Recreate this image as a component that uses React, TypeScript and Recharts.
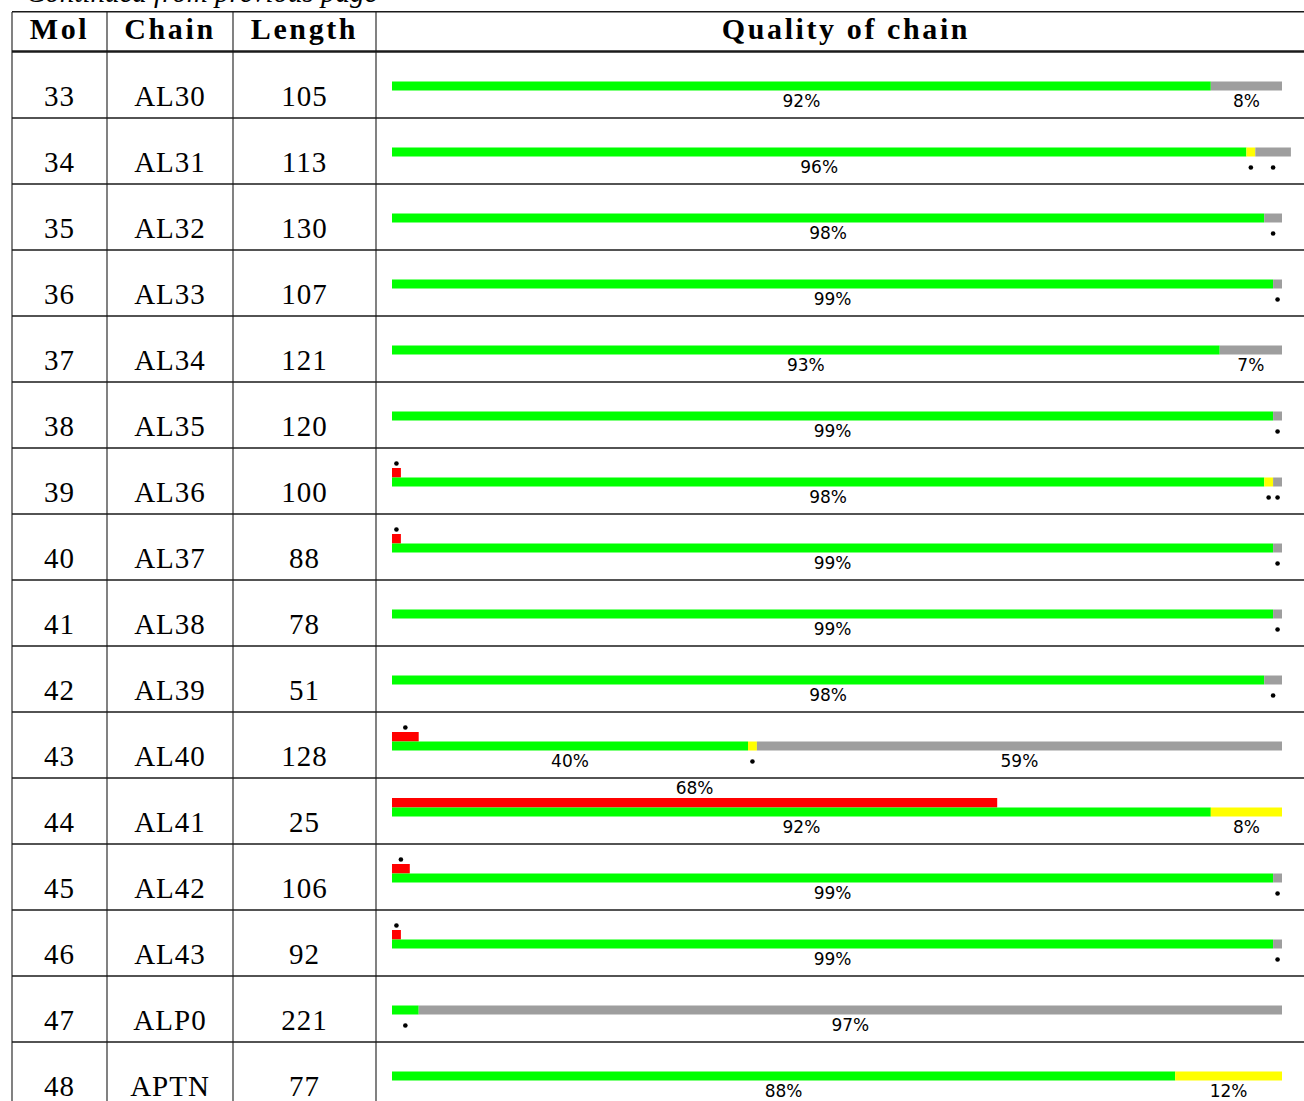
import React from 'react';
import { ComposedChart, Bar, XAxis, YAxis, LabelList } from 'recharts';

// ---- data ----
const mols = [33, 34, 35, 36, 37, 38, 39, 40, 41, 42, 43, 44, 45, 46, 47, 48];
const chains = ['AL30', 'AL31', 'AL32', 'AL33', 'AL34', 'AL35', 'AL36', 'AL37', 'AL38', 'AL39', 'AL40', 'AL41', 'AL42', 'AL43', 'ALP0', 'APTN'];
const lengths = [105, 113, 130, 107, 121, 120, 100, 88, 78, 51, 128, 25, 106, 92, 221, 77];
const goodPct = [92, 96, 98, 99, 93, 99, 98, 99, 99, 98, 40, 92, 99, 99, 3, 88];
const fairPct = [0, 1, 0, 0, 0, 0, 1, 0, 0, 0, 1, 8, 0, 0, 0, 12];
const missingPct = [8, 4, 2, 1, 7, 1, 1, 1, 1, 2, 59, 0, 1, 1, 97, 0];
const outlierPct = [0, 0, 0, 0, 0, 0, 1, 1, 0, 0, 3, 68, 2, 1, 0, 0];
const headers = ['Mol', 'Chain', 'Length', 'Quality of chain'];
const caption = 'Continued from previous page';

const data = mols.map((mol, i) => ({
  mol: String(mol),
  chain: chains[i],
  length: lengths[i],
  good: goodPct[i],
  fair: fairPct[i],
  missing: missingPct[i],
  outlier: outlierPct[i],
}));

// ---- layout / style ----
const CHART_W = 1304;
const CHART_H = 1108;
const COL_X = [12, 107, 233, 376];
const TABLE_RIGHT = 1316;
const LINE = '#1a1a1a';
const SERIF = '"Liberation Serif", "Times New Roman", serif';
const SANS = '"DejaVu Sans", sans-serif';
const GREEN = '#00ff00';
const YELLOW = '#ffff00';
const GREY = '#9e9e9e';
const RED = '#ff0000';
const zero = () => 0;

const colCenter = (i: number) => (COL_X[i] + (i + 1 < COL_X.length ? COL_X[i + 1] : TABLE_RIGHT)) / 2;

function RowTick(props: any) {
  const { y, payload } = props;
  const half = payload && typeof payload.offset === 'number' && payload.offset > 0 ? payload.offset : 33;
  const row = data.find((d) => d.mol === String(payload.value));
  if (!row) return null;
  const top = y - half;
  const bottom = y + half;
  const base = y + 21;
  const cells = [row.mol, row.chain, String(row.length)];
  return (
    <g>
      {COL_X.map((cx) => (
        <line key={cx} x1={cx} x2={cx} y1={top} y2={bottom} stroke={LINE} strokeWidth={1.1} />
      ))}
      <line x1={COL_X[0]} x2={TABLE_RIGHT} y1={bottom} y2={bottom} stroke={LINE} strokeWidth={1.3} />
      {cells.map((t, i) => (
        <text
          key={i}
          x={colCenter(i)}
          y={base}
          textAnchor="middle"
          fontFamily={SERIF}
          fontSize={29}
          letterSpacing={1}
          fill="#000"
        >
          {t}
        </text>
      ))}
    </g>
  );
}

function HeaderLabel(props: any) {
  const vb = props.viewBox || {};
  const top = typeof vb.y === 'number' ? vb.y : 12;
  const h = typeof vb.height === 'number' ? vb.height : 40;
  const bottom = top + h;
  return (
    <g>
      <text x={26} y={top - 10} fontFamily={SERIF} fontStyle="italic" fontSize={29} fill="#000">
        {caption}
      </text>
      <line x1={COL_X[0]} x2={TABLE_RIGHT} y1={top - 0.3} y2={top - 0.3} stroke={LINE} strokeWidth={1.5} />
      <line x1={COL_X[0]} x2={TABLE_RIGHT} y1={bottom - 0.5} y2={bottom - 0.5} stroke={LINE} strokeWidth={2.5} />
      {COL_X.map((cx) => (
        <line key={cx} x1={cx} x2={cx} y1={top} y2={bottom} stroke={LINE} strokeWidth={1.1} />
      ))}
      {headers.map((t, i) => (
        <text
          key={t}
          x={colCenter(i)}
          y={top + 27}
          textAnchor="middle"
          fontFamily={SERIF}
          fontWeight="bold"
          fontSize={30}
          letterSpacing={2.6}
          fill="#000"
        >
          {t}
        </text>
      ))}
    </g>
  );
}

function box(props: any) {
  const vb = props.viewBox && typeof props.viewBox.x === 'number' ? props.viewBox : props;
  return { x: +vb.x, y: +vb.y, width: +vb.width, height: +vb.height };
}

const markBelow = (props: any) => {
  const v = Number(props.value);
  if (!v) return null;
  const { x, y, width, height } = box(props);
  const cx = x + width / 2;
  const bottom = y + height;
  if (v >= 5) {
    return (
      <text x={cx} y={bottom + 16} textAnchor="middle" fontFamily={SANS} fontSize={17} fill="#000">
        {v}%
      </text>
    );
  }
  return <circle cx={cx} cy={bottom + 11} r={2.3} fill="#000" />;
};

const markAbove = (props: any) => {
  const v = Number(props.value);
  if (!v) return null;
  const { x, y, width } = box(props);
  const cx = x + width / 2;
  if (v >= 5) {
    return (
      <text x={cx} y={y - 4} textAnchor="middle" fontFamily={SANS} fontSize={17} fill="#000">
        {v}%
      </text>
    );
  }
  return <circle cx={cx} cy={y - 4.5} r={2.3} fill="#000" />;
};

export default function App() {
  return (
    <div style={{ position: 'absolute', left: 0, top: 0, width: 1304, height: 1101, overflow: 'hidden', background: '#fff' }}>
      <ComposedChart
        width={CHART_W}
        height={CHART_H}
        data={data}
        layout="vertical"
        margin={{ top: 12, right: 13.1, left: 0, bottom: 0 }}
        barGap={0}
      >
        <XAxis
          type="number"
          orientation="top"
          domain={[0, 101]}
          allowDataOverflow
          height={40}
          tick={false}
          tickLine={false}
          axisLine={false}
          label={(p: any) => <HeaderLabel {...p} />}
        />
        <YAxis
          type="category"
          dataKey="mol"
          width={392}
          interval={0}
          tickLine={false}
          axisLine={false}
          tick={(p: any) => <RowTick {...p} />}
        />
        <Bar dataKey="outlier" stackId="out" fill={RED} barSize={9.5} isAnimationActive={false}>
          <LabelList dataKey="outlier" content={markAbove} />
        </Bar>
        <Bar dataKey="good" stackId="q" fill={GREEN} barSize={9} isAnimationActive={false}>
          <LabelList dataKey="good" content={markBelow} />
        </Bar>
        <Bar dataKey="fair" stackId="q" fill={YELLOW} barSize={9} isAnimationActive={false}>
          <LabelList dataKey="fair" content={markBelow} />
        </Bar>
        <Bar dataKey="missing" stackId="q" fill={GREY} barSize={9} isAnimationActive={false}>
          <LabelList dataKey="missing" content={markBelow} />
        </Bar>
        <Bar dataKey={zero} fill="none" barSize={7.5} isAnimationActive={false} />
      </ComposedChart>
    </div>
  );
}
